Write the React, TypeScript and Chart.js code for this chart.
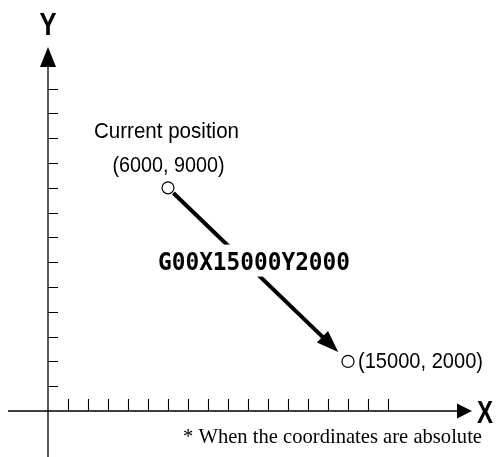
import { useEffect, useRef } from "react";
import { Chart, registerables } from "chart.js";

Chart.register(...registerables);

// ---- data ----
const xTickValues = [1000, 2000, 3000, 4000, 5000, 6000, 7000, 8000, 9000, 10000, 11000, 12000, 13000, 14000, 15000, 16000, 17000];
const yTickValues = [1000, 2000, 3000, 4000, 5000, 6000, 7000, 8000, 9000, 10000, 11000, 12000, 13000];
const pointX = [6000, 15000];
const pointY = [9000, 2000];
const axisNames = ["X", "Y"];
const startLabels = ["Current position", "(6000, 9000)"];
const endLabel = "(15000, 2000)";
const commandLabel = "G00X15000Y2000";
const footnote = "* When the coordinates are absolute";

// ---- scale extents ----
const X_MIN = -2400;
const X_MAX = 22450;
const Y_MIN = -1855;
const Y_MAX = 16573;
const X_AXIS_START = -2000;
const X_AXIS_END = 21200;
const Y_AXIS_END = 14677;

const SANS = '"Liberation Sans", Arial, sans-serif';

const cadPlugin = {
  id: "cadDrawing",
  beforeDatasetsDraw(chart: any) {
    const ctx: CanvasRenderingContext2D = chart.ctx;
    const xs = chart.scales.x;
    const ys = chart.scales.y;
    const ox = xs.getPixelForValue(0);
    const oy = ys.getPixelForValue(0);
    ctx.save();
    ctx.strokeStyle = "#000";
    ctx.fillStyle = "#000";
    ctx.lineWidth = 1.3;

    // X axis
    const xl = xs.getPixelForValue(X_AXIS_START);
    const xr = xs.getPixelForValue(X_AXIS_END);
    ctx.beginPath();
    ctx.moveTo(xl, oy);
    ctx.lineTo(xr - 12, oy);
    ctx.stroke();
    ctx.beginPath();
    ctx.moveTo(xr, oy);
    ctx.lineTo(xr - 15, oy - 7.5);
    ctx.lineTo(xr - 15, oy + 7.5);
    ctx.closePath();
    ctx.fill();

    // Y axis
    const yt = ys.getPixelForValue(Y_AXIS_END);
    const yb = chart.chartArea.bottom;
    ctx.beginPath();
    ctx.moveTo(ox, yb);
    ctx.lineTo(ox, yt + 16);
    ctx.stroke();
    ctx.beginPath();
    ctx.moveTo(ox, yt);
    ctx.lineTo(ox - 8, yt + 20);
    ctx.lineTo(ox + 8, yt + 20);
    ctx.closePath();
    ctx.fill();

    // ticks
    ctx.lineWidth = 1.1;
    ctx.beginPath();
    for (const v of xTickValues) {
      const px = Math.round(xs.getPixelForValue(v)) + 0.5;
      ctx.moveTo(px, oy);
      ctx.lineTo(px, oy - 12);
    }
    for (const v of yTickValues) {
      const py = Math.round(ys.getPixelForValue(v)) + 0.5;
      ctx.moveTo(ox, py);
      ctx.lineTo(ox + 10, py);
    }
    ctx.stroke();

    // axis names
    ctx.font = `bold 32px ${SANS}`;
    ctx.textBaseline = "alphabetic";
    ctx.textAlign = "left";
    ctx.fillText(axisNames[0], xr + 5, oy + 12, 16);
    ctx.textAlign = "center";
    ctx.fillText(axisNames[1], ox, yt - 12, 17);

    // footnote
    ctx.font = `21px "Liberation Serif", "Times New Roman", serif`;
    ctx.textAlign = "right";
    ctx.fillText(footnote, 482, 443, 299);
    ctx.restore();
  },
  afterDatasetsDraw(chart: any) {
    const ctx: CanvasRenderingContext2D = chart.ctx;
    const xs = chart.scales.x;
    const ys = chart.scales.y;
    const p1x = xs.getPixelForValue(pointX[0]);
    const p1y = ys.getPixelForValue(pointY[0]);
    const p2x = xs.getPixelForValue(pointX[1]);
    const p2y = ys.getPixelForValue(pointY[1]);
    const dx = p2x - p1x;
    const dy = p2y - p1y;
    const len = Math.hypot(dx, dy);
    const ux = dx / len;
    const uy = dy / len;
    const sx = p1x + ux * 7.5;
    const sy = p1y + uy * 7.5;
    const tx = p2x - ux * 13.5;
    const ty = p2y - uy * 13.5;
    const headLen = 22;
    const headHalf = 8;
    const bx = tx - ux * headLen;
    const by = ty - uy * headLen;

    ctx.save();
    ctx.strokeStyle = "#000";
    ctx.fillStyle = "#000";
    ctx.lineWidth = 4;
    ctx.beginPath();
    ctx.moveTo(sx, sy);
    ctx.lineTo(bx + ux * 3, by + uy * 3);
    ctx.stroke();
    ctx.beginPath();
    ctx.moveTo(tx, ty);
    ctx.lineTo(bx - uy * headHalf, by + ux * headHalf);
    ctx.lineTo(bx + uy * headHalf, by - ux * headHalf);
    ctx.closePath();
    ctx.fill();

    // command label on white box
    const mx = (p1x + p2x) / 2 - 4;
    const my = (p1y + p2y) / 2 - 14;
    ctx.fillStyle = "#fff";
    ctx.fillRect(mx - 100, my - 16, 200, 32);
    ctx.fillStyle = "#000";
    ctx.font = `bold 25px "DejaVu Sans Mono", monospace`;
    ctx.textAlign = "center";
    ctx.textBaseline = "alphabetic";
    ctx.fillText(commandLabel, mx, my + 9, 192);

    // point labels
    ctx.font = `22px ${SANS}`;
    ctx.textAlign = "center";
    ctx.fillText(startLabels[0], p1x - 1.5, p1y - 49.5, 145);
    ctx.fillText(startLabels[1], p1x + 0.5, p1y - 15.5, 112);
    ctx.textAlign = "left";
    ctx.fillText(endLabel, p2x + 10, p2y + 6.5, 125);
    ctx.restore();
  },
};

export default function App() {
  const canvasRef = useRef<HTMLCanvasElement | null>(null);

  useEffect(() => {
    if (!canvasRef.current) return;
    const chart = new Chart(canvasRef.current, {
      type: "scatter",
      data: {
        datasets: [
          {
            data: pointX.map((x, i) => ({ x, y: pointY[i] })),
            showLine: false,
            pointRadius: 6,
            pointHoverRadius: 6,
            pointBackgroundColor: "#fff",
            pointBorderColor: "#000",
            pointBorderWidth: 1.2,
          },
        ],
      },
      options: {
        animation: false,
        responsive: false,
        maintainAspectRatio: false,
        devicePixelRatio: 1,
        layout: { padding: 0, autoPadding: false },
        events: [],
        plugins: {
          legend: { display: false },
          tooltip: { enabled: false },
        },
        scales: {
          x: { type: "linear", min: X_MIN, max: X_MAX, display: false },
          y: { type: "linear", min: Y_MIN, max: Y_MAX, display: false },
        },
      },
      plugins: [cadPlugin],
    });
    return () => chart.destroy();
  }, []);

  return (
    <div style={{ position: "absolute", left: 0, top: 0, width: 497, height: 457, background: "#fff" }}>
      <canvas ref={canvasRef} width={497} height={457} style={{ display: "block" }} />
    </div>
  );
}
